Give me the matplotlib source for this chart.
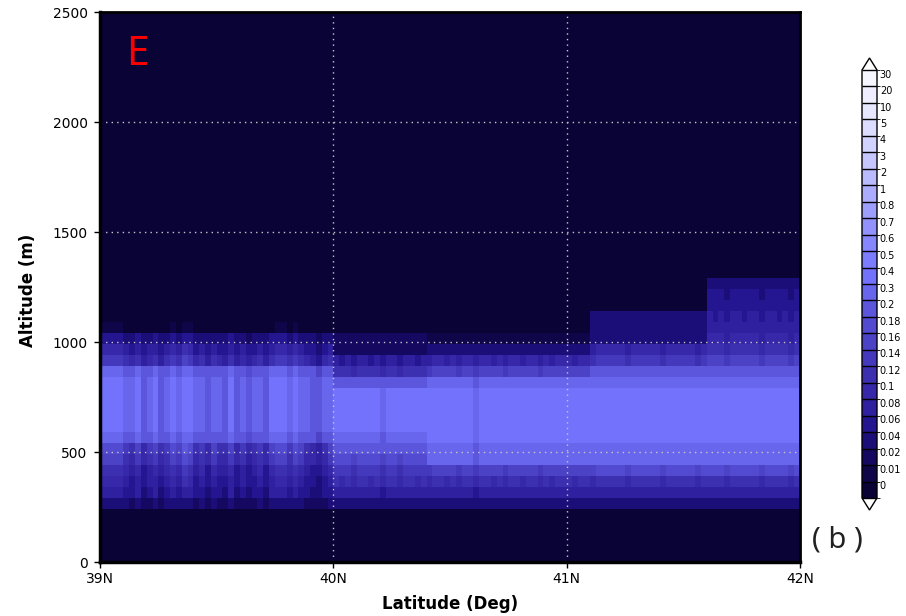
import numpy as np
import matplotlib
matplotlib.use('Agg')
import matplotlib.pyplot as plt
from matplotlib.colors import ListedColormap, BoundaryNorm
import matplotlib.cm as cm

# ---------------- data ----------------
levels = [0, 0.01, 0.02, 0.04, 0.06, 0.08, 0.1, 0.12, 0.14, 0.16, 0.18, 0.2,
          0.3, 0.4, 0.5, 0.6, 0.7, 0.8, 1, 2, 3, 4, 5, 10, 20, 30]
level_labels = ['0', '0.01', '0.02', '0.04', '0.06', '0.08', '0.1', '0.12', '0.14',
                '0.16', '0.18', '0.2', '0.3', '0.4', '0.5', '0.6', '0.7', '0.8',
                '1', '2', '3', '4', '5', '10', '20', '30']
box_colors = ['#0a0336', '#0e0648', '#140860', '#1c0e78', '#241690', '#2e209e',
              '#3628a8', '#3c30b0', '#4438bc', '#4c42c6', '#524ad0', '#5c56dc',
              '#6866ec', '#7272fc', '#7c7cff', '#8686ff', '#9292ff', '#9e9eff',
              '#acacff', '#babaff', '#c6c6ff', '#d2d2ff', '#dcdcff', '#e6e6ff',
              '#eeeeff', '#f6f6ff']

# lower edges (m) of the 50 m altitude bins that hold the layer
layer_bin_bottoms = [240, 290, 340, 390, 440, 490, 540, 590, 640, 690, 740,
                     790, 840, 890, 940, 990, 1040, 1090, 1140, 1190, 1240]
# latitude segments and their vertical profiles
seg_edges = [39.0, 40.0, 40.4, 41.1, 41.6, 42.0]
profile_a = [0.05, 0.09, 0.11, 0.13, 0.17, 0.19, 0.35, 0.45, 0.45, 0.45, 0.45,
             0.45, 0.35, 0.15, 0.11, 0.07, 0.011, 0, 0, 0, 0]
profile_b = [0.05, 0.09, 0.12, 0.15, 0.19, 0.25, 0.35, 0.45, 0.45, 0.45, 0.45,
             0.25, 0.13, 0.08, 0.03, 0.03, 0, 0, 0, 0, 0]
profile_m = [0.05, 0.09, 0.12, 0.17, 0.35, 0.35, 0.45, 0.45, 0.45, 0.45, 0.45,
             0.35, 0.17, 0.10, 0.05, 0.015, 0, 0, 0, 0, 0]
profile_c = [0.05, 0.09, 0.13, 0.19, 0.35, 0.35, 0.45, 0.45, 0.45, 0.45, 0.45,
             0.35, 0.25, 0.15, 0.11, 0.05, 0.05, 0.045, 0, 0, 0]
profile_d = [0.05, 0.09, 0.13, 0.19, 0.35, 0.35, 0.45, 0.45, 0.45, 0.45, 0.45,
             0.35, 0.25, 0.17, 0.13, 0.11, 0.09, 0.08, 0.07, 0.065, 0.045]

# column-to-column variation (0.025 deg columns from 39N to 42N)
col_factor = [1.0, 1.0, 0.95, 1.0, 0.8, 0.7, 0.9, 0.6, 0.75, 0.9,
              0.65, 0.8, 1.0, 0.85, 1.1, 1.0, 0.7, 0.8, 0.6, 0.85,
              0.7, 0.65, 0.9, 0.6, 0.75, 0.55, 0.7, 0.8, 0.6, 0.9,
              1.0, 0.95, 0.8, 1.0, 0.85, 0.7, 0.6, 0.5, 0.7, 0.85,
              1.0, 0.95, 1.0, 0.9, 1.0, 1.05, 0.95, 1.0, 0.85, 1.0,
              1.0, 0.9, 1.05, 1.0, 0.95, 1.0, 0.9, 1.0, 1.05, 0.95,
              1.0, 0.9, 1.0, 1.0, 0.85, 1.0, 1.05, 0.95, 1.0, 0.9,
              1.0, 1.0, 0.95, 1.05, 1.0, 0.9, 1.0, 0.95, 1.0, 1.0,
              1.0, 0.95, 1.05, 1.0, 0.9, 1.0, 1.0, 0.95, 1.05, 1.0,
              0.9, 1.0, 0.95, 1.0, 1.05, 1.0, 0.9, 1.0, 1.0, 0.95,
              1.0, 1.05, 0.9, 1.0, 1.0, 0.95, 1.0, 0.9, 1.05, 1.0,
              0.95, 1.0, 1.0, 0.9, 1.0, 1.05, 0.95, 1.0, 0.9, 1.0]

x_ticks = [39, 40, 41, 42]
x_tick_labels = ['39N', '40N', '41N', '42N']
y_ticks = [0, 500, 1000, 1500, 2000, 2500]

# ---------------- build grid ----------------
profiles = [profile_a, profile_b, profile_m, profile_c, profile_d]
lat_edges = np.linspace(39.0, 42.0, len(col_factor) + 1)
lat_centers = 0.5 * (lat_edges[:-1] + lat_edges[1:])
alt_edges = np.arange(-10, 2541, 50)
Z = np.zeros((len(alt_edges) - 1, len(lat_centers)))
i0 = int(np.searchsorted(alt_edges, layer_bin_bottoms[0]))
for j, lc in enumerate(lat_centers):
    s = int(np.searchsorted(seg_edges, lc)) - 1
    s = min(max(s, 0), len(profiles) - 1)
    Z[i0:i0 + len(layer_bin_bottoms), j] = np.array(profiles[s]) * col_factor[j]

# ---------------- plot ----------------
W, H = 906, 616
fig = plt.figure(figsize=(W / 100, H / 100), dpi=100)
ax = fig.add_axes([100 / W, 54 / H, 700 / W, 550 / H])

cmap = ListedColormap(box_colors).with_extremes(under='white', over='white')
norm = BoundaryNorm(levels + [1e9], ncolors=len(box_colors))
ax.pcolormesh(lat_edges, alt_edges, Z, cmap=cmap, norm=norm, shading='flat')
ax.set_xlim(39, 42)
ax.set_ylim(0, 2500)
ax.set_facecolor(box_colors[0])

for gx in [40, 41]:
    ax.axvline(gx, color='#c8c8c8', lw=1.0, ls=(0, (1, 3)))
for gy in [500, 1000, 1500, 2000]:
    ax.axhline(gy, color='#c8c8c8', lw=1.0, ls=(0, (1, 3)))

ax.set_xticks(x_ticks)
ax.set_xticklabels(x_tick_labels)
ax.set_yticks(y_ticks)
ax.set_yticklabels([str(v) for v in y_ticks])
ax.tick_params(direction='out', length=4, width=1, labelsize=10, pad=3)
ax.tick_params(axis='y', pad=5)
for sp in ax.spines.values():
    sp.set_linewidth(2)
ax.spines['left'].set_linewidth(2.5)
ax.spines['bottom'].set_linewidth(2.5)

fig.text(28 / W, 1 - 290 / H, 'Altitude (m)', rotation=90, ha='center', va='center',
         fontsize=12, fontweight='bold')
fig.text(450 / W, 1 - 604 / H, 'Latitude (Deg)', ha='center', va='center',
         fontsize=12, fontweight='bold')

fig.text(126 / W, 1 - 65 / H, 'E', color='red', fontsize=29, family='Noto Sans',
         ha='left', va='baseline')
fig.text(837 / W, 1 - 540 / H, '( b )', color='#222222', fontsize=21, family='Noto Sans',
         ha='center', va='center', fontweight='light')

# colorbar (uniform boxes, labels near top of each box)
cax = fig.add_axes([862 / W, 1 - 510 / H, 15 / W, 452 / H])
idx_norm = BoundaryNorm(np.arange(len(box_colors) + 1), ncolors=len(box_colors))
sm = cm.ScalarMappable(norm=idx_norm, cmap=cmap)
cb = fig.colorbar(sm, cax=cax, extend='both', extendfrac=12 / 427,
                  drawedges=True, spacing='uniform')
cb.set_ticks(np.arange(len(levels)) + 0.78)
cb.set_ticklabels(level_labels)
cb.ax.tick_params(length=0, labelsize=7, pad=2)
cb.outline.set_linewidth(1)
cb.dividers.set_color('black')
cb.dividers.set_linewidth(1)

fig.savefig('out.png', dpi=100)
